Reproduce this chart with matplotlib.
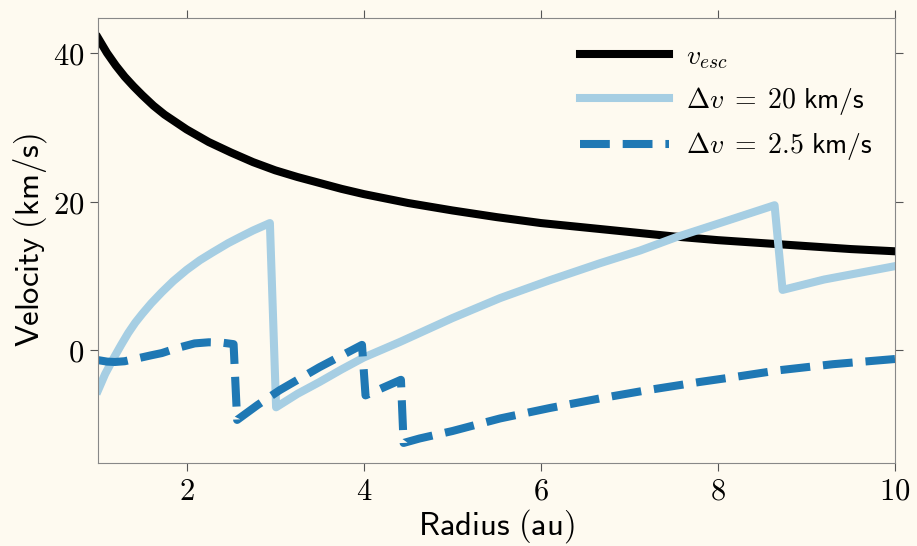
import matplotlib
matplotlib.use("Agg")
import matplotlib.pyplot as plt

# values
r_esc = [1.0, 1.1, 1.2, 1.3, 1.4, 1.5, 1.625, 1.75, 1.875, 2.0, 2.25, 2.5, 2.75,
         3.0, 3.25, 3.5, 3.75, 4.0, 4.5, 5.0, 5.5, 6.0, 6.5, 7.0, 7.5, 8.0,
         8.5, 9.0, 9.5, 10.0]
v_esc = [42.0, 40.0, 38.3, 36.8, 35.5, 34.3, 32.9, 31.7, 30.7, 29.7, 28.0, 26.6, 25.3,
         24.2, 23.3, 22.5, 21.7, 21.0, 19.8, 18.8, 17.9, 17.1, 16.5, 15.9, 15.3, 14.8,
         14.4, 14.0, 13.6, 13.3]

r_fast = [1.0, 1.08, 1.17, 1.26, 1.34, 1.42, 1.5, 1.6, 1.72, 1.85, 2.0, 2.15,
          2.3, 2.47, 2.6, 2.75, 2.94, 3.01,
          3.25, 3.5, 3.75, 4.0, 4.41, 5.0, 5.54, 6.1, 6.67, 7.12, 7.53, 8.1,
          8.64, 8.73, 9.2, 9.6, 10.0]
v_fast = [-5.4, -3.2, -1.2, 0.7, 2.3, 3.7, 4.9, 6.3, 7.8, 9.3, 10.8, 12.1,
          13.2, 14.4, 15.2, 16.1, 17.1, -7.7,
          -5.9, -4.3, -2.6, -1.0, 1.1, 4.3, 7.0, 9.4, 11.7, 13.4, 15.2, 17.4,
          19.5, 8.1, 9.5, 10.4, 11.3]

r_slow = [1.0, 1.1, 1.19, 1.3, 1.45, 1.6, 1.72, 1.9, 2.09, 2.25, 2.4, 2.53,
          2.57, 2.8, 3.05, 3.5, 3.98, 4.02, 4.42, 4.45, 4.63, 5.0, 5.54, 6.1,
          6.67, 7.2, 7.79, 8.2, 8.7, 9.3, 10.0]
v_slow = [-1.35, -1.55, -1.6, -1.5, -1.1, -0.7, -0.4, 0.3, 0.9, 1.05, 1.0, 0.8,
          -9.4, -7.4, -5.4, -2.3, 0.7, -6.1, -4.0, -12.5, -11.9, -10.9, -9.2, -7.8,
          -6.5, -5.4, -4.3, -3.6, -2.7, -1.9, -1.2]

xticks = [2, 4, 6, 8, 10]
yticks = [0, 20, 40]

bg = "#fefaf0"
plt.rcParams["mathtext.fontset"] = "cm"

fig, ax = plt.subplots(figsize=(9.17, 5.46), dpi=100)
fig.patch.set_facecolor(bg)
ax.set_facecolor(bg)
fig.subplots_adjust(left=0.107, right=0.976, top=0.967, bottom=0.152)

ax.plot(r_esc, v_esc, color="black", lw=5.8, label=r"$v_{esc}$")
ax.plot(r_fast, v_fast, color="#a6cee3", lw=5.8, solid_joinstyle="round",
        label=r"$\Delta v \;=\; \mathsf{20\ km/s}$")
ax.plot(r_slow, v_slow, color="#1f78b4", lw=5.8, ls="--",
        label=r"$\Delta v \;=\; \mathsf{2.5\ km/s}$")

ax.set_xlim(1, 10)
ax.set_ylim(-15.2, 44.7)
ax.set_xticks(xticks)
ax.set_yticks(yticks)
ax.set_xticklabels([f"${t}$" for t in xticks], fontsize=22)
ax.set_yticklabels([f"${t}$" for t in yticks], fontsize=22)
ax.tick_params(direction="out", length=6, color="#555555", top=True, right=True,
               labeltop=False, labelright=False, pad=4)
for s in ax.spines.values():
    s.set_color("#888888")

ax.set_xlabel(r"$\mathsf{Radius\ (au)}$", fontsize=23.5, labelpad=1)
ax.set_ylabel(r"$\mathsf{Velocity\ (km/s)}$", fontsize=23.5, labelpad=3)

ax.legend(loc="upper right", frameon=False, fontsize=20, handlelength=3.2,
          handletextpad=0.6, labelspacing=0.5, borderaxespad=0.3,
          bbox_to_anchor=(0.996, 0.99))

fig.savefig("out.png", dpi=100, facecolor=bg)
